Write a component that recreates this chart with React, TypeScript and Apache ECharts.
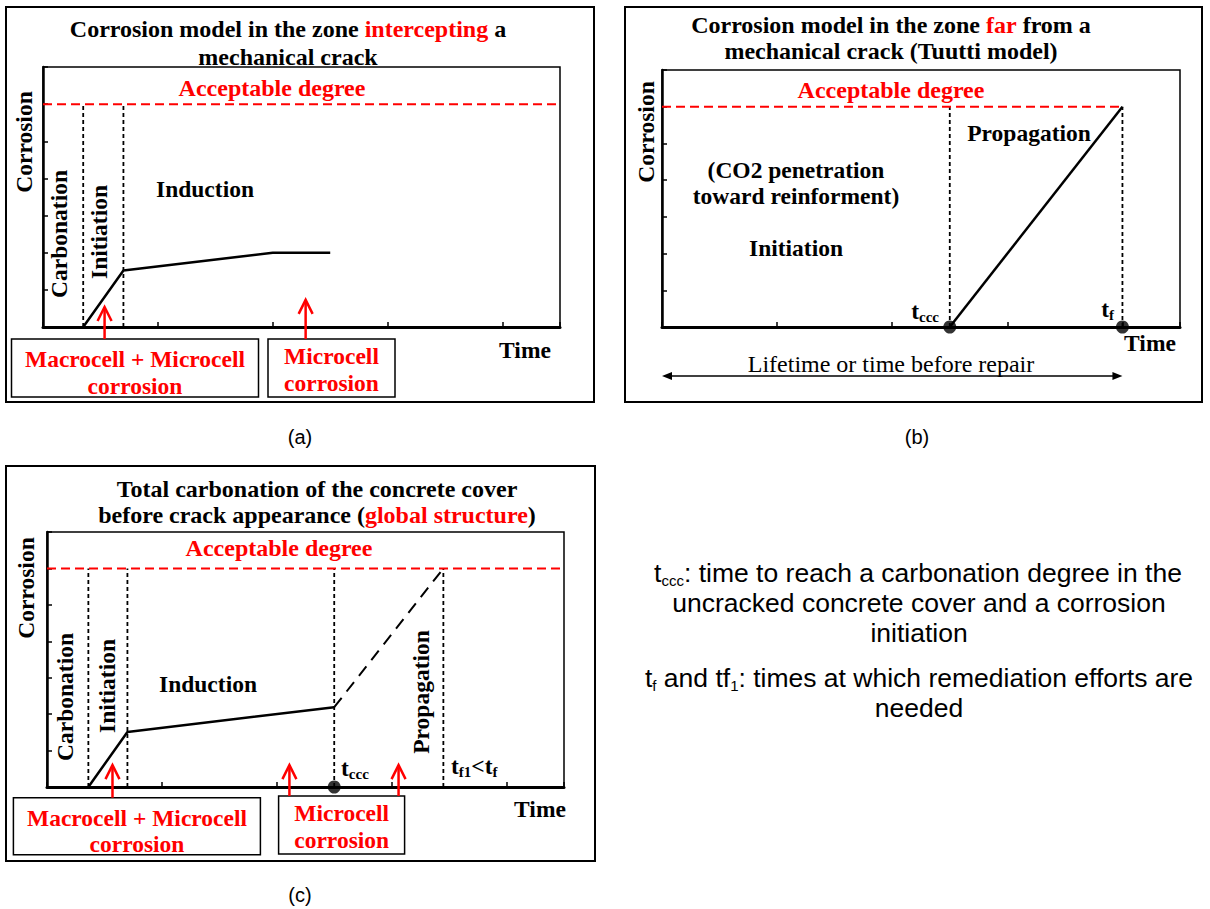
import React, { useEffect, useRef } from 'react';
import * as echarts from 'echarts';

// ---------- data (axis units: time 0..4.5, corrosion 0..7) ----------
const X_MAX = 4.5;
const Y_MAX = 7;
const acceptableLevel = 6;

// panel (a)
const curveA = [[0.35, 0], [0.7, 1.52], [2.0, 2.0], [2.5, 2.0]];
const phaseA = [0.35, 0.7];
const acceptA = [[0, acceptableLevel], [4.5, acceptableLevel]];
const arrowsA = [[0.536, 0.54], [2.286, 0.73]];

// panel (b)
const lineB = [[2.5, 0], [4.0, 6.0]];
const phaseB = [2.5, 4.0];
const acceptB = [[0, acceptableLevel], [4.0, acceptableLevel]];
const dotsB = [[2.5, 0], [4.0, 0]];
const lifetimeB = [0, 4.0];

// panel (c)
const curveC = [[0.36, 0], [0.7, 1.51], [2.5, 2.19]];
const dashC = [[2.5, 2.19], [3.45, 6.0]];
const phaseC = [0.36, 0.7, 2.5, 3.45];
const acceptC = [[0, acceptableLevel], [4.5, acceptableLevel]];
const dotsC = [[2.5, 0]];
const arrowsC = [[0.57, 0.6], [2.11, 0.6], [3.06, 0.6]];

const SERIF = '"Liberation Serif", "DejaVu Serif", serif';
const SANS = '"Liberation Sans", Arial, sans-serif';
const RED = '#ff0000';
const FS = 23.5;

const richSerif = {
  r: { fill: RED, fontFamily: SERIF, fontSize: 24, fontWeight: 'bold', lineHeight: 26 },
  s: { fill: '#000', fontFamily: SERIF, fontSize: 15, fontWeight: 'bold', lineHeight: 12, verticalAlign: 'bottom' },
};
const richSans = {
  s: { fill: '#000', fontFamily: SANS, fontSize: 15, lineHeight: 12, verticalAlign: 'bottom' },
};

function T(x: number, y: number, text: string, o: any = {}) {
  return {
    type: 'text',
    x,
    y,
    rotation: o.rot ?? 0,
    z: 10,
    style: {
      text,
      fill: o.color ?? '#000',
      fontFamily: o.family ?? SERIF,
      fontSize: o.size ?? FS,
      fontWeight: o.weight ?? 'bold',
      align: o.align ?? 'center',
      verticalAlign: 'middle',
      lineHeight: o.lh ?? 26,
      rich: o.rich ?? richSerif,
    },
  };
}

function box(x: number, y: number, w: number, h: number) {
  return { type: 'rect', shape: { x, y, width: w, height: h }, style: { fill: 'none', stroke: '#000', lineWidth: 1.5 }, z: 5 };
}

function frame(x: number, y: number, w: number, h: number) {
  return { type: 'rect', shape: { x, y, width: w, height: h }, style: { fill: 'none', stroke: '#000', lineWidth: 2 }, z: 1 };
}

export default function App() {
  const ref = useRef<HTMLDivElement>(null);

  useEffect(() => {
    const chart = echarts.init(ref.current as HTMLDivElement, null, { renderer: 'svg' });

    const gridDefs = [
      { left: 43, top: 67, width: 517, height: 260 },
      { left: 662, top: 70, width: 518, height: 257 },
      { left: 47, top: 532, width: 517, height: 255 },
    ];
    const grid = gridDefs.map((g) => ({ ...g, show: true, borderColor: '#000', borderWidth: 1.5, backgroundColor: 'transparent' }));
    const xAxis = gridDefs.map((_, i) => ({
      gridIndex: i, type: 'value', min: 0, max: X_MAX, interval: 1,
      axisLine: { show: true, onZero: false, lineStyle: { color: '#000', width: 3 } },
      axisTick: { show: true, inside: true, length: 5, lineStyle: { color: '#000', width: 1.5 } },
      axisLabel: { show: false }, splitLine: { show: false },
    }));
    const yAxis = gridDefs.map((_, i) => ({
      gridIndex: i, type: 'value', min: 0, max: Y_MAX, interval: 1,
      axisLine: { show: true, onZero: false, lineStyle: { color: '#000', width: 2.5 } },
      axisTick: { show: true, inside: true, length: 5, lineStyle: { color: '#000', width: 1.5 } },
      axisLabel: { show: false }, splitLine: { show: false },
    }));

    const line = (g: number, data: number[][], color: string, width: number, type: any, z = 3) => ({
      type: 'line', xAxisIndex: g, yAxisIndex: g, data, symbol: 'none', silent: true, z,
      lineStyle: { color, width, type }, clip: false,
    });
    const vlines = (g: number, xs: number[]) => xs.map((x) => line(g, [[x, 0], [x, acceptableLevel]], '#000', 1.8, [4, 3], 2));

    const series: any[] = [
      line(0, acceptA, RED, 2, [9, 5]),
      ...vlines(0, phaseA),
      line(0, curveA, '#000', 2.5, 'solid', 4),

      line(1, acceptB, RED, 2, [9, 5]),
      ...vlines(1, phaseB),
      line(1, lineB, '#000', 2.5, 'solid', 4),
      { type: 'scatter', xAxisIndex: 1, yAxisIndex: 1, data: dotsB, symbolSize: 13, itemStyle: { color: '#000' }, silent: true, z: 6, clip: false },

      line(2, acceptC, RED, 2, [9, 5]),
      ...vlines(2, phaseC),
      line(2, curveC, '#000', 2.5, 'solid', 4),
      line(2, dashC, '#000', 2, [12, 8], 4),
      { type: 'scatter', xAxisIndex: 2, yAxisIndex: 2, data: dotsC, symbolSize: 13, itemStyle: { color: '#000' }, silent: true, z: 6, clip: false },
    ];

    chart.setOption({ animation: false, grid, xAxis, yAxis, series });

    const px = (g: number, p: number[]) => chart.convertToPixel({ gridIndex: g } as any, p) as number[];

    const arrow = (g: number, p: number[], bottomY: number) => {
      const [x, tip] = px(g, p);
      return [
        { type: 'line', shape: { x1: x, y1: bottomY, x2: x, y2: tip }, style: { stroke: RED, lineWidth: 2.5 }, z: 8 },
        { type: 'polyline', shape: { points: [[x - 7, tip + 14], [x, tip], [x + 7, tip + 14]] }, style: { stroke: RED, lineWidth: 2.5, fill: 'none' }, z: 8 },
      ];
    };

    const lx0 = px(1, [lifetimeB[0], 0])[0];
    const lx1 = px(1, [lifetimeB[1], 0])[0];
    const ly = 376;

    const sansOpts = { family: SANS, weight: 'normal', size: 26.5, lh: 30, rich: richSans };

    const graphic: any[] = [
      frame(6, 7, 588, 395),
      frame(625, 7, 577, 395),
      frame(6, 466, 589, 395),

      // ----- panel (a)
      T(288, 29, 'Corrosion model in the zone {r|intercepting} a', { size: 24 }),
      T(288, 57, 'mechanical crack', { size: 24 }),
      T(272, 88, 'Acceptable degree', { color: RED, size: 24 }),
      T(24, 142, 'Corrosion', { rot: Math.PI / 2 }),
      T(59, 234, 'Carbonation', { rot: Math.PI / 2 }),
      T(99, 232, 'Initiation', { rot: Math.PI / 2 }),
      T(205, 189, 'Induction'),
      T(525, 350, 'Time'),
      box(11.5, 339, 247, 58),
      box(268, 339, 127, 58),
      T(135, 359, 'Macrocell + Microcell', { color: RED }),
      T(135, 386, 'corrosion', { color: RED }),
      T(331.5, 356, 'Microcell', { color: RED }),
      T(331.5, 383, 'corrosion', { color: RED }),
      ...arrowsA.flatMap((p) => arrow(0, p, 339)),

      // ----- panel (b)
      T(891, 25, 'Corrosion model in the zone {r|far} from a', { size: 24 }),
      T(891, 51, 'mechanical crack (Tuutti model)', { size: 24 }),
      T(891, 90, 'Acceptable degree', { color: RED, size: 24 }),
      T(646, 132, 'Corrosion', { rot: Math.PI / 2 }),
      T(1029, 133, 'Propagation'),
      T(796, 170, '(CO2 penetration'),
      T(796, 196, 'toward reinforment)'),
      T(796, 248, 'Initiation'),
      T(939, 311, 't{s|ccc}', { align: 'right' }),
      T(1114, 309, 't{s|f}', { align: 'right' }),
      T(1150, 343, 'Time'),
      T(891, 364, 'Lifetime or time before repair', { weight: 'normal', size: 24 }),
      { type: 'line', shape: { x1: lx0 + 6, y1: ly, x2: lx1 - 6, y2: ly }, style: { stroke: '#000', lineWidth: 1.5 }, z: 8 },
      { type: 'polygon', shape: { points: [[lx0, ly], [lx0 + 10, ly - 4], [lx0 + 10, ly + 4]] }, style: { fill: '#000' }, z: 8 },
      { type: 'polygon', shape: { points: [[lx1, ly], [lx1 - 10, ly - 4], [lx1 - 10, ly + 4]] }, style: { fill: '#000' }, z: 8 },

      // ----- panel (c)
      T(317, 489, 'Total carbonation of the concrete cover', { size: 24 }),
      T(317, 515, 'before crack appearance ({r|global structure})', { size: 24 }),
      T(279, 548, 'Acceptable degree', { color: RED, size: 24 }),
      T(26, 588, 'Corrosion', { rot: Math.PI / 2 }),
      T(65, 697, 'Carbonation', { rot: Math.PI / 2 }),
      T(107, 686, 'Initiation', { rot: Math.PI / 2 }),
      T(208, 684, 'Induction'),
      T(421, 692, 'Propagation', { rot: Math.PI / 2 }),
      T(341, 768, 't{s|ccc}', { align: 'left' }),
      T(451, 766, 't{s|f1}<t{s|f}', { align: 'left' }),
      T(540, 809, 'Time'),
      box(13.4, 797.7, 247, 57),
      box(278.6, 796, 126, 58),
      T(137, 818, 'Macrocell + Microcell', { color: RED }),
      T(137, 844, 'corrosion', { color: RED }),
      T(341.7, 813, 'Microcell', { color: RED }),
      T(341.7, 840, 'corrosion', { color: RED }),
      ...arrowsC.flatMap((p, i) => arrow(2, p, i === 0 ? 797.7 : 796)),

      // ----- sub-figure labels
      T(300, 437, '(a)', { family: SANS, weight: 'normal', size: 20, rich: richSans }),
      T(917, 437, '(b)', { family: SANS, weight: 'normal', size: 20, rich: richSans }),
      T(300, 895, '(c)', { family: SANS, weight: 'normal', size: 20, rich: richSans }),

      // ----- legend text on the right
      T(918, 573, 't{s|ccc}: time to reach a carbonation degree in the', sansOpts),
      T(919, 603, 'uncracked concrete cover and a corrosion', sansOpts),
      T(919, 633, 'initiation', sansOpts),
      T(919, 678, 't{s|f} and tf{s|1}: times at which remediation efforts are', sansOpts),
      T(919, 708, 'needed', sansOpts),
    ];

    chart.setOption({ graphic });

    return () => chart.dispose();
  }, []);

  return (
    <div
      ref={ref}
      style={{ position: 'absolute', left: 0, top: 0, width: 1210, height: 909, background: '#fff' }}
    />
  );
}
